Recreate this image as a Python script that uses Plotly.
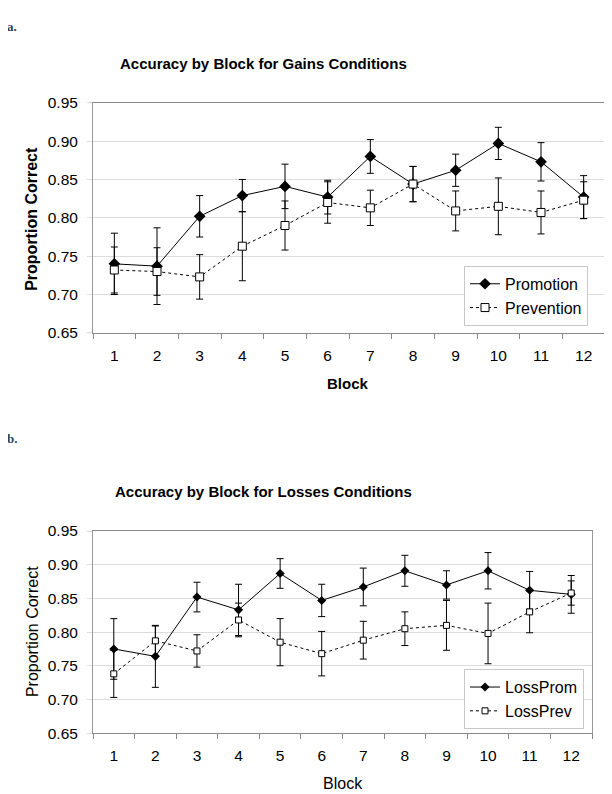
import plotly.graph_objects as go

# ---------------- data ----------------
blocks = ["1", "2", "3", "4", "5", "6", "7", "8", "9", "10", "11", "12"]

promotion = [0.740, 0.737, 0.802, 0.829, 0.841, 0.827, 0.880, 0.844, 0.862, 0.897, 0.873, 0.827]
promotion_err = [0.040, 0.050, 0.027, 0.021, 0.029, 0.022, 0.022, 0.023, 0.021, 0.021, 0.025, 0.028]
prevention = [0.732, 0.730, 0.723, 0.763, 0.790, 0.820, 0.813, 0.844, 0.809, 0.815, 0.807, 0.823]
prevention_err = [0.030, 0.031, 0.029, 0.045, 0.032, 0.027, 0.023, 0.023, 0.026, 0.037, 0.028, 0.024]

loss_prom = [0.775, 0.764, 0.852, 0.833, 0.887, 0.847, 0.867, 0.891, 0.870, 0.891, 0.862, 0.856]
loss_prom_err = [0.045, 0.046, 0.022, 0.038, 0.022, 0.024, 0.028, 0.023, 0.021, 0.027, 0.028, 0.028]
loss_prev = [0.738, 0.787, 0.772, 0.818, 0.785, 0.768, 0.788, 0.805, 0.810, 0.798, 0.830, 0.858]
loss_prev_err = [0.035, 0.022, 0.024, 0.025, 0.035, 0.033, 0.028, 0.025, 0.037, 0.045, 0.031, 0.018]

y_ticks = [0.65, 0.70, 0.75, 0.80, 0.85, 0.90, 0.95]

FONT = "Liberation Sans, Arial, sans-serif"
W, H = 612, 794

# mapping from target screen pixels to paper coordinates (page offset compensation)
X_OFF, Y_OFF, Y_SCALE = 8.0, 16.3, 776.5


def px(xp):
    return (xp - X_OFF) / W


def py(yp):
    return 1 - (yp - Y_OFF) / Y_SCALE


def err(vals):
    return dict(type="data", array=vals, visible=True, color="black", thickness=1, width=3.5)


fig = go.Figure()

# top chart
fig.add_trace(go.Scatter(
    x=blocks, y=promotion, name="Promotion", mode="lines+markers",
    line=dict(color="black", width=1),
    marker=dict(symbol="diamond", size=9, color="black"),
    error_y=err(promotion_err), xaxis="x", yaxis="y", legend="legend"))
fig.add_trace(go.Scatter(
    x=blocks, y=prevention, name="Prevention", mode="lines+markers",
    line=dict(color="black", width=1, dash="dot"),
    marker=dict(symbol="square", size=8, color="white", line=dict(color="black", width=1)),
    error_y=err(prevention_err), xaxis="x", yaxis="y", legend="legend"))

# bottom chart
fig.add_trace(go.Scatter(
    x=blocks, y=loss_prom, name="LossProm", mode="lines+markers",
    line=dict(color="black", width=1),
    marker=dict(symbol="diamond", size=7, color="black"),
    error_y=err(loss_prom_err), xaxis="x2", yaxis="y2", legend="legend2"))
fig.add_trace(go.Scatter(
    x=blocks, y=loss_prev, name="LossPrev", mode="lines+markers",
    line=dict(color="black", width=1, dash="dot"),
    marker=dict(symbol="square", size=6, color="white", line=dict(color="black", width=1)),
    error_y=err(loss_prev_err), xaxis="x2", yaxis="y2", legend="legend2"))

xcommon = dict(type="category", range=[-0.5, 11.5], tickson="boundaries", ticks="outside",
               ticklen=5, tickcolor="#888888", showline=True, linecolor="#888888", linewidth=1,
               mirror=True, showgrid=False, tickfont=dict(family=FONT, size=15.5, color="black"),
               ticklabelstandoff=8, fixedrange=True)
ycommon = dict(range=[0.65, 0.95], tickvals=y_ticks, tickformat=".2f", showgrid=True,
               gridcolor="#dcdcdc", gridwidth=1, ticks="outside", ticklen=5, tickcolor="#dcdcdc",
               showline=True, linecolor="#999999", linewidth=1, mirror=True, zeroline=False,
               tickfont=dict(family=FONT, size=15.5, color="black"), ticklabelstandoff=6,
               fixedrange=True)

fig.update_layout(
    width=W, height=H,
    margin=dict(l=0, r=0, t=0, b=0),
    paper_bgcolor="white", plot_bgcolor="white",
    showlegend=True,
    xaxis=dict(domain=[px(93), px(605)], anchor="y", **xcommon),
    yaxis=dict(domain=[py(332), py(102)], anchor="x", **ycommon),
    xaxis2=dict(domain=[px(93), px(592)], anchor="y2", **xcommon),
    yaxis2=dict(domain=[py(732), py(530)], anchor="x2", **ycommon),
    legend=dict(x=px(464), y=py(265), xanchor="left", yanchor="top",
                bgcolor="white", bordercolor="#c8c8c8", borderwidth=1,
                font=dict(family=FONT, size=16, color="black"), tracegroupgap=0),
    legend2=dict(x=px(464), y=py(668), xanchor="left", yanchor="top",
                 bgcolor="white", bordercolor="#c8c8c8", borderwidth=1,
                 font=dict(family=FONT, size=16, color="black"), tracegroupgap=0),
    annotations=[
        dict(text="<b>a.</b>", x=px(5), y=1.0, xref="paper", yref="paper",
             xanchor="left", yanchor="top", showarrow=False,
             font=dict(family="Liberation Serif, serif", size=13)),
        dict(text="<b>b.</b>", x=px(5), y=py(438), xref="paper", yref="paper", xanchor="left",
             yanchor="middle", showarrow=False, font=dict(family="Liberation Serif, serif", size=13)),
        dict(text="<b>Accuracy by Block for Gains Conditions</b>", x=px(263), y=py(63),
             xref="paper", yref="paper", xanchor="center", yanchor="middle", showarrow=False,
             font=dict(family=FONT, size=15, color="black")),
        dict(text="<b>Accuracy by Block for Losses Conditions</b>", x=px(263), y=py(490),
             xref="paper", yref="paper", xanchor="center", yanchor="middle", showarrow=False,
             font=dict(family=FONT, size=15, color="black")),
        dict(text="<b>Block</b>", x=px(348), y=py(383), xref="paper", yref="paper",
             xanchor="center", yanchor="middle", showarrow=False,
             font=dict(family=FONT, size=15, color="black")),
        dict(text="Block", x=px(343), y=py(782), xref="paper", yref="paper",
             xanchor="center", yanchor="middle", showarrow=False,
             font=dict(family=FONT, size=16, color="black")),
        dict(text="<b>Proportion Correct</b>", x=px(32), y=py(218), xref="paper", yref="paper",
             xanchor="center", yanchor="middle", textangle=-90, showarrow=False,
             font=dict(family=FONT, size=16, color="black")),
        dict(text="Proportion Correct", x=px(32), y=py(631), xref="paper", yref="paper",
             xanchor="center", yanchor="middle", textangle=-90, showarrow=False,
             font=dict(family=FONT, size=16, color="black")),
    ],
)

fig.write_html("out.html")
